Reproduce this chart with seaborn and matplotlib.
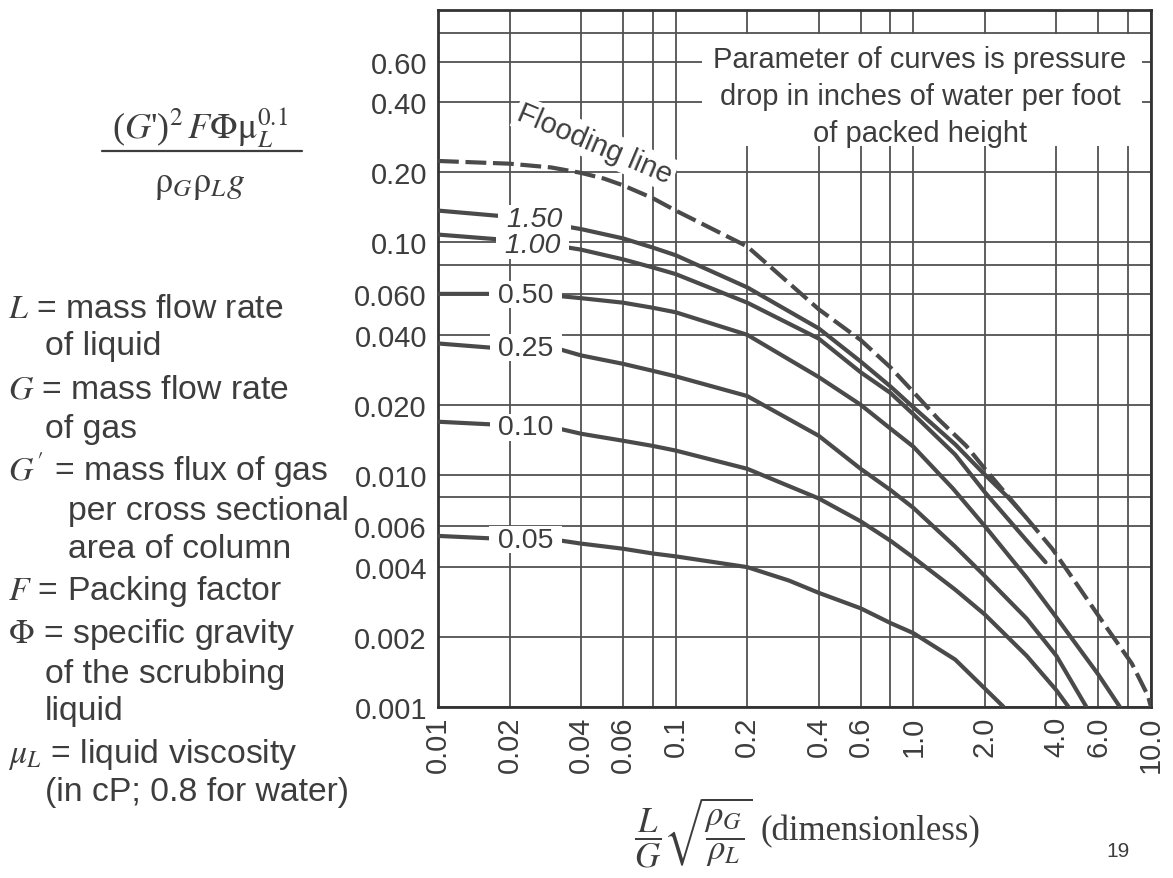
import matplotlib
matplotlib.use("Agg")
import matplotlib.pyplot as plt
import seaborn as sns
import pandas as pd
from matplotlib.patches import Rectangle
from matplotlib.ticker import NullLocator

# ---------------- data ----------------
flood_x = [0.01, 0.02, 0.03, 0.04, 0.05, 0.06, 0.08, 0.1, 0.2, 0.4, 0.6, 0.8,
           1.0, 1.27, 1.67, 2.0, 2.96, 3.84, 4.95, 6.4, 8.3, 9.7, 10.0]
flood_y = [0.224, 0.218, 0.21, 0.199, 0.188, 0.176, 0.155, 0.137, 0.096, 0.0515,
           0.038, 0.029, 0.0227, 0.0174, 0.0133, 0.0106, 0.0066, 0.0048, 0.0033,
           0.00225, 0.00154, 0.00112, 0.001]

p150_x = [0.01, 0.018, 0.033, 0.04, 0.06, 0.08, 0.1, 0.2, 0.4, 0.6, 0.8, 1.0,
          1.5, 2.0, 2.5, 2.96]
p150_y = [0.137, 0.13, 0.118, 0.114, 0.104, 0.095, 0.088, 0.064, 0.0426,
          0.0307, 0.024, 0.0195, 0.0135, 0.0100, 0.0080, 0.0066]

p100_x = [0.01, 0.018, 0.033, 0.04, 0.06, 0.08, 0.1, 0.2, 0.4, 0.6, 0.8, 1.0,
          1.5, 2.0, 3.0, 3.6]
p100_y = [0.108, 0.103, 0.096, 0.093, 0.0845, 0.078, 0.073, 0.055, 0.0385,
          0.0276, 0.0225, 0.0182, 0.0122, 0.0084, 0.0052, 0.0042]

p050_x = [0.01, 0.018, 0.033, 0.04, 0.06, 0.08, 0.1, 0.2, 0.4, 0.6, 0.8, 1.0,
          1.47, 2.0, 3.0, 4.0, 6.0, 7.4]
p050_y = [0.060, 0.060, 0.0586, 0.0575, 0.055, 0.0523, 0.050, 0.040, 0.0263,
          0.020, 0.0158, 0.0132, 0.0087, 0.006, 0.0036, 0.00243, 0.00138, 0.001]

p025_x = [0.01, 0.018, 0.033, 0.04, 0.06, 0.08, 0.1, 0.2, 0.4, 0.6, 0.8, 1.0,
          1.5, 2.0, 3.0, 4.0, 5.35]
p025_y = [0.0367, 0.035, 0.0345, 0.0326, 0.030, 0.028, 0.0265, 0.0218, 0.0147,
          0.0106, 0.0086, 0.0072, 0.0049, 0.00366, 0.0024, 0.00166, 0.001]

p010_x = [0.01, 0.018, 0.033, 0.04, 0.06, 0.08, 0.1, 0.2, 0.4, 0.6, 0.8, 1.0,
          1.5, 2.0, 3.0, 4.0, 4.5]
p010_y = [0.0169, 0.0164, 0.0157, 0.015, 0.014, 0.0133, 0.0127, 0.0106,
          0.0079, 0.0063, 0.0052, 0.0044, 0.0032, 0.0025, 0.00166, 0.00118, 0.001]

p005_x = [0.01, 0.018, 0.033, 0.04, 0.06, 0.08, 0.1, 0.2, 0.3, 0.4, 0.6, 0.8,
          1.0, 1.5, 2.0, 2.4]
p005_y = [0.00545, 0.0053, 0.0052, 0.00505, 0.0048, 0.00458, 0.00445, 0.0040,
          0.0035, 0.0031, 0.00266, 0.0023, 0.00208, 0.0016, 0.0012, 0.001]

curve_labels = ["1.50", "1.00", "0.50", "0.25", "0.10", "0.05"]
label_x = [0.0255, 0.0250, 0.0234, 0.0234, 0.0234, 0.0234]
label_y = [0.126, 0.0974, 0.0595, 0.0352, 0.0160, 0.00525]

x_grid = [0.01, 0.02, 0.04, 0.06, 0.08, 0.1, 0.2, 0.4, 0.6, 0.8, 1.0, 2.0,
          4.0, 6.0, 8.0, 10.0]
x_ticklabels = ["0.01", "0.02", "0.04", "0.06", "", "0.1", "0.2", "0.4",
                "0.6", "", "1.0", "2.0", "4.0", "6.0", "", "10.0"]
y_grid = [0.001, 0.002, 0.004, 0.006, 0.008, 0.01, 0.02, 0.04, 0.06, 0.08,
          0.1, 0.2, 0.4, 0.6, 0.8]
y_ticklabels = ["0.001", "0.002", "0.004", "0.006", "", "0.010", "0.020",
                "0.040", "0.060", "", "0.10", "0.20", "0.40", "0.60", ""]

# ---------------- style ----------------
sns.set_style("white")
plt.rcParams['font.family'] = ['Liberation Sans', 'DejaVu Sans']
plt.rcParams['mathtext.fontset'] = 'stix'

INK = "#3d3d3d"
LINE = "#4a4a4a"
GRID = "#525252"
SERIF = ["Liberation Serif", "DejaVu Serif"]

W, H = 1173, 879
fig = plt.figure(figsize=(W / 100, H / 100), dpi=100)
fig.patch.set_facecolor("white")
ax = fig.add_axes([438 / W, 1 - 708 / H, (1151 - 438) / W, (708 - 11) / H])
ax.set_xscale("log")
ax.set_yscale("log")

# ---------------- curves ----------------
curves = [
    (p150_x, p150_y), (p100_x, p100_y), (p050_x, p050_y),
    (p025_x, p025_y), (p010_x, p010_y), (p005_x, p005_y),
]
for cx, cy in curves:
    sns.lineplot(x=cx, y=cy, ax=ax, color=LINE, linewidth=3.0, zorder=3,
                 estimator=None, sort=False)
sns.lineplot(x=flood_x, y=flood_y, ax=ax, color=LINE, linewidth=3.0, zorder=3,
             estimator=None, sort=False, linestyle=(0, (5, 1.6)))

ax.set_xlim(0.01, 10.0)
ax.set_ylim(0.001, 1.0)

ax.set_xticks(x_grid)
ax.set_xticklabels(x_ticklabels, rotation=90)
ax.set_yticks(y_grid)
ax.set_yticklabels(y_ticklabels)
ax.xaxis.set_minor_locator(NullLocator())
ax.yaxis.set_minor_locator(NullLocator())
ax.tick_params(axis="both", length=0, labelsize=21, labelcolor=INK)
ax.tick_params(axis="y", pad=8)
ax.tick_params(axis="x", pad=6)
ax.set_axisbelow(True)
ax.grid(True, which="major", color=GRID, linewidth=1.3)
ax.set_xlabel("")
ax.set_ylabel("")
for s in ax.spines.values():
    s.set_color("#333333")
    s.set_linewidth(2.0)

# white box behind the parameter note (breaks the grid as in the original)
ax.add_patch(Rectangle((0.370, 0.805), 0.617, 0.161, transform=ax.transAxes,
                       facecolor="white", edgecolor="none", zorder=1))
note = ["Parameter of curves is pressure",
        "drop in inches of water per foot",
        "of packed height"]
for i, t in enumerate(note):
    ax.text(0.676, 0.930 - i * 0.053, t, transform=ax.transAxes, ha="center",
            va="center", fontsize=21, color=INK, zorder=4)

# curve labels (spaces give the gap in the curve on both sides)
for i, (lab, lx, ly) in enumerate(zip(curve_labels, label_x, label_y)):
    ax.text(lx, ly, " " + lab + " ", ha="center", va="center",
            fontsize=20.5, color=INK,
            style="italic" if i < 2 else "normal", zorder=6 - i * 0.1,
            bbox=dict(facecolor="white", edgecolor="none", pad=0.5))

ax.text(0.0458, 0.266, "Flooding line", ha="center", va="center", fontsize=21,
        color=INK, rotation=-23, rotation_mode="anchor", zorder=4,
        bbox=dict(facecolor="white", edgecolor="none", pad=2))

# ---------------- left side text ----------------
def fx(px):
    return px / W


def fy(py):
    return 1 - py / H


fig.text(fx(200), fy(128), r"($G$')$^2\,F\Phi\mathrm{\mu}_L^{0.1}$",
         fontsize=26, ha="center", va="center", color=INK, family=SERIF)
fig.add_artist(plt.Line2D([fx(102), fx(302)], [fy(152), fy(152)],
                          color=INK, linewidth=1.6, transform=fig.transFigure))
fig.text(fx(200), fy(186), r"$\mathrm{\rho}_G\mathrm{\rho}_L g$", fontsize=26,
         ha="center", va="center", color=INK, family=SERIF)

legend_lines = [
    (8, 310, r"$L$ = mass flow rate"),
    (45, 347, "of liquid"),
    (8, 390, r"$G$ = mass flow rate"),
    (45, 430, "of gas"),
    (8, 470, r"$G\,'$ = mass flux of gas"),
    (68, 512, "per cross sectional"),
    (68, 550, "area of column"),
    (8, 592, r"$F$ = Packing factor"),
    (8, 635, r"$\Phi$ = specific gravity"),
    (45, 675, "of the scrubbing"),
    (45, 712, "liquid"),
    (8, 755, r"$\mu_L$ = liquid viscosity"),
    (45, 793, "(in cP; 0.8 for water)"),
]
for px, py, t in legend_lines:
    fig.text(fx(px), fy(py), t, fontsize=24.3, ha="left", va="center",
             color=INK)

# x-axis label
fig.text(fx(693), fy(833), r"$\dfrac{L}{G}\sqrt{\dfrac{\rho_G}{\rho_L}}$",
         fontsize=25, ha="center", va="center", color=INK)
fig.text(fx(870), fy(832), "(dimensionless)", fontsize=25, ha="center",
         va="center", color=INK, family=SERIF)

fig.text(fx(1118), fy(852), "19", fontsize=15, ha="center", va="center",
         color=INK)

fig.savefig("out.png", dpi=100, facecolor="white")
